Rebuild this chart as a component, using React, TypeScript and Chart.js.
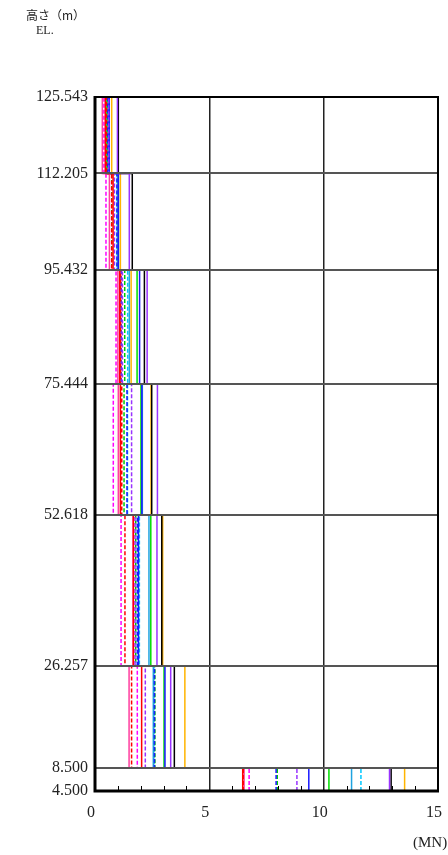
import React, { useEffect, useRef } from "react";
import { Chart, registerables } from "chart.js";

Chart.register(...registerables);

// Floor levels (EL., m), bottom to top
const LEVELS = [4.5, 8.5, 26.257, 52.618, 75.444, 95.432, 112.205, 125.543];
const X_TICKS = [0, 5, 10, 15];

// Story shear values (MN) per story, bottom story first
const redSolid = [6.46, 2.04, 1.68, 1.11, 1.08, 0.79, 0.45];
const redDashed = [6.48, 1.6, 1.31, 1.17, 1.12, 0.73, 0.5];
const pinkSolid = [6.52, 1.49, 1.66, 1.02, 1.0, 0.63, 0.32];
const magentaDashed = [6.74, 1.85, 1.14, 0.8, 0.92, 0.48, 0.39];
const purpleSolid = [12.88, 3.31, 2.71, 2.73, 2.28, 1.5, 0.98];
const purpleDashed = [8.83, 2.2, 1.75, 1.6, 1.2, 0.85, 0.6];
const blueSolid = [9.35, 3.06, 1.9, 2.05, 1.95, 1.02, 0.62];
const blueDashed = [7.92, 2.6, 1.85, 1.4, 1.14, 0.96, 0.56];
const greenSolid = [10.23, 3.02, 2.44, 2.01, 1.84, 1.02, 0.52];
const greenDashed = [7.97, 2.62, 1.78, 1.27, 1.3, 0.73, 0.48];
const skySolid = [11.22, 2.55, 2.36, 2.07, 1.5, 1.02, 0.62];
const cyanDashed = [11.63, 2.58, 1.94, 1.42, 1.43, 0.96, 0.56];
const blackSolid = [12.95, 3.47, 2.92, 2.48, 2.16, 1.63, 1.02];
const orangeSolid = [13.54, 3.93, 2.96, 2.45, 1.58, 1.11, 0.73];

const SERIES = [
  { name: "red", values: redSolid, color: "#ff0000", dashed: false },
  { name: "red-d", values: redDashed, color: "#ff0000", dashed: true },
  { name: "pink", values: pinkSolid, color: "#ff3fa0", dashed: false },
  { name: "magenta-d", values: magentaDashed, color: "#ff00ff", dashed: true },
  { name: "purple", values: purpleSolid, color: "#9933ff", dashed: false },
  { name: "purple-d", values: purpleDashed, color: "#9933ff", dashed: true },
  { name: "blue", values: blueSolid, color: "#1a1aff", dashed: false },
  { name: "blue-d", values: blueDashed, color: "#1a1aff", dashed: true },
  { name: "green", values: greenSolid, color: "#00dd00", dashed: false },
  { name: "green-d", values: greenDashed, color: "#00cc00", dashed: true },
  { name: "sky", values: skySolid, color: "#1fa3e0", dashed: false },
  { name: "cyan-d", values: cyanDashed, color: "#00c8ff", dashed: true },
  { name: "black", values: blackSolid, color: "#000000", dashed: false },
  { name: "orange", values: orangeSolid, color: "#ffb400", dashed: false },
];

function stepPoints(values: number[]) {
  const pts: { x: number; y: number }[] = [];
  values.forEach((v, i) => {
    pts.push({ x: v, y: LEVELS[i] });
    pts.push({ x: v, y: LEVELS[i + 1] });
  });
  return pts;
}

const frameAndMinorTicks = {
  id: "frameAndMinorTicks",
  afterDraw(chart: any) {
    const { ctx, chartArea } = chart;
    const xs = chart.scales.x;
    ctx.save();
    ctx.strokeStyle = "#000";
    ctx.lineWidth = 1;
    for (let i = 1; i < 15; i++) {
      if (i % 5 === 0) continue;
      const px = Math.round(xs.getPixelForValue(i)) + 0.5;
      ctx.beginPath();
      ctx.moveTo(px, chartArea.bottom);
      ctx.lineTo(px, chartArea.bottom - 5);
      ctx.stroke();
    }
    ctx.lineWidth = 2;
    ctx.strokeRect(chartArea.left, chartArea.top, chartArea.right - chartArea.left, chartArea.bottom - chartArea.top);
    ctx.lineWidth = 3;
    ctx.beginPath();
    ctx.moveTo(chartArea.left, chartArea.top - 1);
    ctx.lineTo(chartArea.left, chartArea.bottom);
    ctx.lineTo(chartArea.right + 1, chartArea.bottom);
    ctx.stroke();
    ctx.restore();
  },
};

export default function App() {
  const ref = useRef<HTMLCanvasElement>(null);

  useEffect(() => {
    if (!ref.current) return;
    const chart = new Chart(ref.current, {
      type: "line",
      data: {
        datasets: SERIES.map((s) => ({
          label: s.name,
          data: stepPoints(s.values),
          borderColor: s.color,
          backgroundColor: s.color,
          borderWidth: 1.5,
          borderDash: s.dashed ? [4, 2] : [],
          pointRadius: 0,
          fill: false,
          tension: 0,
        })),
      },
      options: {
        animation: false,
        responsive: false,
        devicePixelRatio: 1,
        parsing: false as any,
        layout: { padding: { left: 0, right: 10, top: 97, bottom: 0 } },
        plugins: { legend: { display: false }, tooltip: { enabled: false } },
        scales: {
          x: {
            type: "linear",
            min: 0,
            max: 15,
            afterBuildTicks: (scale: any) => {
              scale.ticks = X_TICKS.map((v) => ({ value: v }));
            },
            afterFit: (scale: any) => {
              scale.height = 64;
              scale.paddingLeft = 0;
              scale.paddingRight = 0;
            },
            grid: { color: "#222", lineWidth: 1.5, drawTicks: false, z: 1 } as any,
            border: { display: false },
            ticks: {
              color: "#222",
              font: { family: "'Liberation Serif', serif", size: 16 },
              padding: 12,
              labelOffset: -4,
              maxRotation: 0,
            },
          },
          y: {
            type: "linear",
            min: 4.5,
            max: 125.543,
            afterBuildTicks: (scale: any) => {
              scale.ticks = LEVELS.map((v) => ({ value: v }));
            },
            afterFit: (scale: any) => {
              scale.width = 95;
              scale.paddingTop = 0;
              scale.paddingBottom = 0;
            },
            grid: { color: "#555", lineWidth: 2, drawTicks: false, z: 1 } as any,
            border: { display: false },
            ticks: {
              color: "#222",
              font: { family: "'Liberation Serif', serif", size: 16 },
              padding: 7,
              callback: (v: any) => Number(v).toFixed(3),
            },
          },
        },
      },
      plugins: [frameAndMinorTicks],
    });
    return () => chart.destroy();
  }, []);

  return (
    <div style={{ position: "absolute", left: 0, top: 0, width: 448, height: 855, background: "#fff" }}>
      <canvas ref={ref} width={448} height={855} style={{ position: "absolute", left: 0, top: 0 }} />
      <div
        style={{
          position: "absolute",
          left: 26,
          top: 6,
          fontFamily: "'Noto Sans CJK JP', serif",
          fontSize: 12,
          color: "#222",
          whiteSpace: "nowrap",
        }}
      >
        高さ（m）
      </div>
      <div
        style={{
          position: "absolute",
          left: 36,
          top: 23,
          fontFamily: "'Liberation Serif', serif",
          fontSize: 12,
          color: "#222",
        }}
      >
        EL.
      </div>
      <div
        style={{
          position: "absolute",
          left: 413,
          top: 834,
          fontFamily: "'Liberation Serif', serif",
          fontSize: 15,
          color: "#222",
        }}
      >
        (MN)
      </div>
    </div>
  );
}
